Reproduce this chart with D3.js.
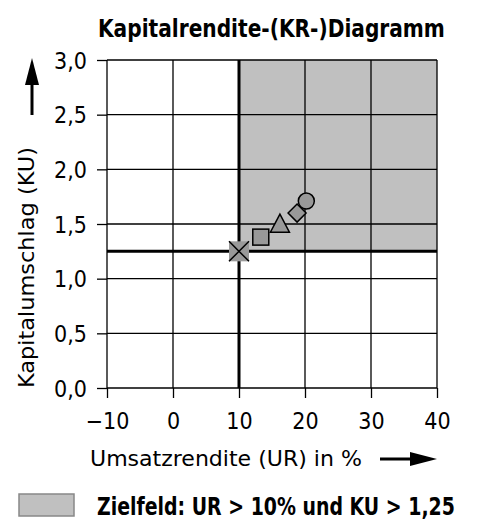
<!DOCTYPE html>
<html><head><meta charset="utf-8">
<script src="https://cdn.jsdelivr.net/npm/d3@7"></script>
<style>
body{margin:0;background:#fff;}
text{font-family:"DejaVu Sans Condensed","Liberation Sans Narrow",sans-serif;fill:#000;}
</style></head><body>
<svg id="c" width="478" height="520"></svg>
<script>
const xTicks = [-10, 0, 10, 20, 30, 40];
const yTicks = [0, 0.5, 1.0, 1.5, 2.0, 2.5, 3.0];
const pointUR = [10, 13.3, 16.2, 18.8, 20.2];
const pointKU = [1.25, 1.38, 1.48, 1.6, 1.71];
const pointShape = ["cross", "square", "triangle", "diamond", "circle"];
const targetUR = 10, targetKU = 1.25;
const title = "Kapitalrendite-(KR-)Diagramm";
const xTitle = "Umsatzrendite (UR) in %";
const yTitle = "Kapitalumschlag (KU)";
const legendText = "Zielfeld: UR > 10% und KU > 1,25";

const svg = d3.select("#c");
const x = d3.scaleLinear().domain([-10, 40]).range([107, 437]);
const y = d3.scaleLinear().domain([0, 3]).range([388, 60]);
const fmt = v => (v < 0 ? "\u2212" + Math.abs(v) : String(v));
const fmtY = v => v.toFixed(1).replace(".", ",");

// fit a text horizontally to a target width by scaling, keeping height
function fitText(sel, tx, ty, width, rot) {
  const w = sel.node().getComputedTextLength();
  const s = width / w;
  sel.attr("x", 0).attr("y", 0)
    .attr("transform", `translate(${tx},${ty})${rot ? " rotate(" + rot + ")" : ""} scale(${s},1)`);
}

// target area
svg.append("rect").attr("x", x(targetUR)).attr("y", y(3)).attr("width", x(40) - x(targetUR))
  .attr("height", y(targetKU) - y(3)).attr("fill", "#c0c0c0");

// grid
svg.append("g").selectAll("line").data(xTicks).join("line")
  .attr("x1", d => x(d)).attr("x2", d => x(d)).attr("y1", y(3)).attr("y2", y(0))
  .attr("stroke", "#000").attr("stroke-width", 1.3);
svg.append("g").selectAll("line").data(yTicks).join("line")
  .attr("x1", x(-10)).attr("x2", x(40)).attr("y1", d => y(d)).attr("y2", d => y(d))
  .attr("stroke", "#000").attr("stroke-width", 1.3);

// axes
const xAxis = svg.append("g").attr("transform", `translate(0,${y(0)})`)
  .call(d3.axisBottom(x).tickValues(xTicks).tickFormat(fmt).tickSize(10).tickPadding(15));
const yAxis = svg.append("g").attr("transform", `translate(${x(-10)},0)`)
  .call(d3.axisLeft(y).tickValues(yTicks).tickFormat(fmtY).tickSize(10).tickPadding(10));
[xAxis, yAxis].forEach(a => {
  a.select(".domain").remove();
  a.selectAll(".tick line").attr("stroke", "#000").attr("stroke-width", 1.3);
  a.selectAll(".tick text").attr("font-size", 23).attr("fill", "#000")
    .style("font-family", '"DejaVu Sans Condensed",sans-serif');
});
yAxis.selectAll(".tick text").attr("dy", "0.36em");

// thick target lines
svg.append("line").attr("x1", x(targetUR)).attr("x2", x(targetUR)).attr("y1", y(3)).attr("y2", y(0))
  .attr("stroke", "#000").attr("stroke-width", 3);
svg.append("line").attr("x1", x(-10)).attr("x2", x(40)).attr("y1", y(targetKU)).attr("y2", y(targetKU))
  .attr("stroke", "#000").attr("stroke-width", 3);

// markers
const pts = pointUR.map((u, i) => ({u, k: pointKU[i], s: pointShape[i]}));
const g = svg.append("g");
pts.forEach(p => {
  const cx = x(p.u), cy = y(p.k);
  const st = sel => sel.attr("fill", "#999").attr("stroke", "#000").attr("stroke-width", 1.5);
  if (p.s === "cross") {
    g.append("rect").attr("x", cx - 10).attr("y", cy - 10).attr("width", 20).attr("height", 20)
      .attr("fill", "#999");
    g.append("path").attr("d", `M${cx-10},${cy-10}L${cx+10},${cy+10}M${cx+10},${cy-10}L${cx-10},${cy+10}`)
      .attr("stroke", "#000").attr("stroke-width", 1.5);
  } else if (p.s === "square") {
    st(g.append("rect").attr("x", cx - 8).attr("y", cy - 8).attr("width", 16).attr("height", 16));
  } else if (p.s === "triangle") {
    st(g.append("path").attr("d", `M${cx},${cy-12}L${cx+9.5},${cy+6}L${cx-9.5},${cy+6}Z`));
  } else if (p.s === "diamond") {
    st(g.append("path").attr("d", `M${cx},${cy-9}L${cx+9},${cy}L${cx},${cy+9}L${cx-9},${cy}Z`));
  } else {
    st(g.append("circle").attr("cx", cx).attr("cy", cy).attr("r", 8));
  }
});

// title
fitText(svg.append("text").attr("font-size", 25).attr("font-weight", "bold").text(title), 98, 37, 347);

// x title + arrow
fitText(svg.append("text").attr("font-size", 21).text(xTitle), 90, 466, 272);
svg.append("line").attr("x1", 380).attr("x2", 415).attr("y1", 459).attr("y2", 459)
  .attr("stroke", "#000").attr("stroke-width", 3);
svg.append("path").attr("d", "M410,452L437,459L410,466Z").attr("fill", "#000");

// y title + arrow
fitText(svg.append("text").attr("font-size", 21).text(yTitle), 34, 388, 241, -90);
svg.append("line").attr("x1", 32).attr("x2", 32).attr("y1", 115).attr("y2", 80)
  .attr("stroke", "#000").attr("stroke-width", 3);
svg.append("path").attr("d", "M25,85L32,58L39,85Z").attr("fill", "#000");

// legend
svg.append("rect").attr("x", 19).attr("y", 494).attr("width", 55).attr("height", 22)
  .attr("fill", "#c0c0c0").attr("stroke", "#888").attr("stroke-width", 1.5);
fitText(svg.append("text").attr("font-size", 25).attr("font-weight", "bold").text(legendText), 97, 515, 358);
</script></body></html>
